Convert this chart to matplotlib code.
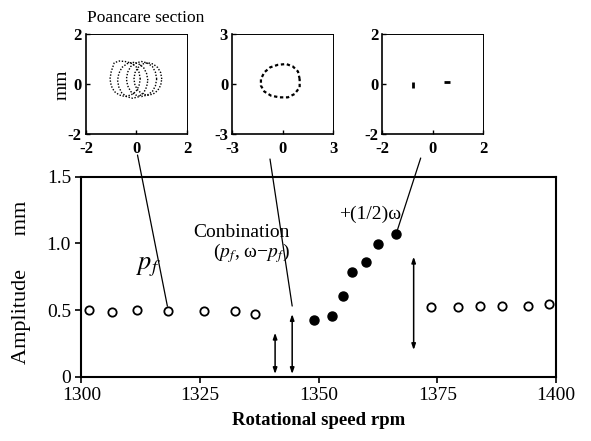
import numpy as np
import matplotlib
matplotlib.use('Agg')
import matplotlib.pyplot as plt
from matplotlib.patches import ConnectionPatch

plt.rcParams['font.family'] = ['Liberation Serif', 'DejaVu Serif']
plt.rcParams['mathtext.fontset'] = 'stix'

# amplitude vs rotational speed
rpm_open_lo = [1301.6, 1306.5, 1311.6, 1318.3, 1325.9, 1332.3, 1336.6]
amp_open_lo = [0.500, 0.485, 0.503, 0.493, 0.493, 0.495, 0.468]
rpm_half = [1349.0, 1352.8, 1355.1, 1357.0, 1360.0, 1362.4, 1366.3]
amp_half = [0.425, 0.455, 0.608, 0.788, 0.858, 0.995, 1.070]
rpm_open_hi = [1373.6, 1379.3, 1383.9, 1388.6, 1394.2, 1398.5]
amp_open_hi = [0.520, 0.520, 0.533, 0.533, 0.533, 0.545]

# double arrows (rpm, low, high)
arrow_rpm = [1340.8, 1344.4, 1370.0]
arrow_lo = [0.02, 0.02, 0.20]
arrow_hi = [0.33, 0.47, 0.90]

# poincare section 1 (four shifted loops)
p1_loops_x = [
    [0.15, 0.10, -0.02, -0.22, -0.45, -0.68, -0.88, -1.0, -1.05, -1.0, -0.88, -0.68, -0.45, -0.22, -0.02, 0.10, 0.15],
    [0.45, 0.40, 0.28, 0.08, -0.15, -0.38, -0.58, -0.70, -0.75, -0.70, -0.58, -0.38, -0.15, 0.08, 0.28, 0.40, 0.45],
    [0.80, 0.75, 0.63, 0.43, 0.20, -0.03, -0.23, -0.35, -0.40, -0.35, -0.23, -0.03, 0.20, 0.43, 0.63, 0.75, 0.80],
    [1.0, 0.96, 0.84, 0.66, 0.45, 0.24, 0.06, -0.06, -0.10, -0.06, 0.06, 0.24, 0.45, 0.66, 0.84, 0.96, 1.0],
]
p1_loops_y = [
    [0.2, 0.47, 0.70, 0.84, 0.9, 0.92, 0.85, 0.50, 0.2, -0.07, -0.30, -0.44, -0.5, -0.44, -0.30, -0.07, 0.2],
    [0.15, 0.42, 0.66, 0.81, 0.87, 0.81, 0.66, 0.42, 0.15, -0.12, -0.36, -0.51, -0.57, -0.51, -0.36, -0.12, 0.15],
    [0.2, 0.47, 0.70, 0.84, 0.9, 0.84, 0.70, 0.47, 0.2, -0.07, -0.30, -0.44, -0.5, -0.44, -0.30, -0.07, 0.2],
    [0.2, 0.45, 0.66, 0.80, 0.85, 0.80, 0.66, 0.45, 0.2, -0.05, -0.26, -0.40, -0.45, -0.40, -0.26, -0.05, 0.2],
]
# poincare section 2 (broken ring)
p2_x = [1.0, 0.9, 0.6, 0.2, -0.3, -0.75, -1.1, -1.3, -1.3, -1.1, -0.7, -0.2, 0.3, 0.7, 1.0, 1.0]
p2_y = [0.3, 0.75, 1.05, 1.2, 1.15, 1.0, 0.7, 0.3, -0.1, -0.45, -0.7, -0.8, -0.8, -0.6, -0.2, 0.3]
# poincare section 3 (two fixed points)
p3_x = [-0.80, 0.55]
p3_y = [-0.04, 0.07]

fig = plt.figure(figsize=(5.91, 4.41), dpi=100)

ax = fig.add_axes([0.1379, 0.1458, 0.8029, 0.4535])
ax.plot(rpm_open_lo, amp_open_lo, 'o', mfc='white', mec='black', ms=6, mew=1.3)
ax.plot(rpm_open_hi, amp_open_hi, 'o', mfc='white', mec='black', ms=6, mew=1.3)
ax.plot(rpm_half, amp_half, 'o', color='black', ms=6.5)
for xr, lo, hi in zip(arrow_rpm, arrow_lo, arrow_hi):
    ax.annotate('', xy=(xr, hi), xytext=(xr, lo),
                arrowprops=dict(arrowstyle='<|-|>,head_length=0.35,head_width=0.12',
                                color='black', lw=1.1, shrinkA=0, shrinkB=0))
ax.set_xlim(1300, 1400)
ax.set_ylim(0, 1.5)
ax.set_xticks([1300, 1325, 1350, 1375, 1400])
ax.set_yticks([0, 0.5, 1.0, 1.5])
ax.set_yticklabels(['0', '0.5', '1.0', '1.5'])
ax.tick_params(direction='out', length=4, width=1.2, labelsize=14)
for s in ax.spines.values():
    s.set_linewidth(1.5)
ax.set_xlabel('Rotational speed rpm', fontsize=13.5, fontweight='bold', labelpad=6)
fig.text(0.037, 0.36, 'Amplitude      mm', rotation=90, fontsize=16, ha='center', va='center')

ax.text(1314.2, 0.82, r'$p_f$', fontsize=19, ha='center', va='center')
ax.text(1333.8, 1.085, 'Conbination', fontsize=14, ha='center', va='center')
ax.text(1344.0, 0.93, r'($p_f$, ω−$p_f$)', fontsize=14, ha='right', va='center')
ax.text(1360.8, 1.22, '+(1/2)ω', fontsize=14, ha='center', va='center')

# insets
ins = []
for left, lim in [(0.1455, 2), (0.3931, 3), (0.6469, 2)]:
    a = fig.add_axes([left, 0.6961, 0.1709, 0.2268])
    a.set_xlim(-lim, lim)
    a.set_ylim(-lim, lim)
    a.set_xticks([-lim, 0, lim])
    a.set_yticks([-lim, 0, lim])
    a.set_xticklabels([str(-lim), '0', str(lim)])
    a.set_yticklabels([str(-lim), '0', str(lim)])
    a.tick_params(direction='in', length=3, width=1, labelsize=12)
    a.tick_params(axis='x', pad=5)
    a.tick_params(axis='y', pad=3)
    for lab in a.get_xticklabels() + a.get_yticklabels():
        lab.set_fontweight('bold')
    for s in a.spines.values():
        s.set_linewidth(1.2)
    a.spines['top'].set_linewidth(0.7)
    a.spines['right'].set_linewidth(0.7)
    ins.append(a)

for lx, ly in zip(p1_loops_x, p1_loops_y):
    ins[0].plot(lx, ly, color='black', lw=1.0, ls=(0, (1, 1.2)))
ins[1].plot(p2_x, p2_y, color='black', lw=1.6, ls=(0, (1.5, 1.2)))
ins[2].plot(p3_x[:1], p3_y[:1], marker='|', color='black', ms=4, mew=2, ls='none')
ins[2].plot(p3_x[1:], p3_y[1:], marker='_', color='black', ms=4, mew=2, ls='none')

fig.text(0.105, 0.808, 'mm', rotation=90, fontsize=14, ha='center', va='center')
fig.text(0.147, 0.959, 'Poancare section', fontsize=12.5, ha='left', va='center')

# leader lines from the sections to the amplitude plot
leaders = [(ins[0], (0.51, -0.21), (1318.3, 0.493), 3.5),
           (ins[1], (0.373, -0.25), (1344.4, 0.53), 0),
           (ins[2], (0.38, -0.24), (1366.3, 1.07), 0)]
for a, pa, pb, sh in leaders:
    con = ConnectionPatch(xyA=pa, coordsA=a.transAxes, xyB=pb, coordsB=ax.transData,
                          color='black', lw=0.9, shrinkA=0, shrinkB=sh)
    fig.add_artist(con)

fig.savefig('out.png', dpi=100)
